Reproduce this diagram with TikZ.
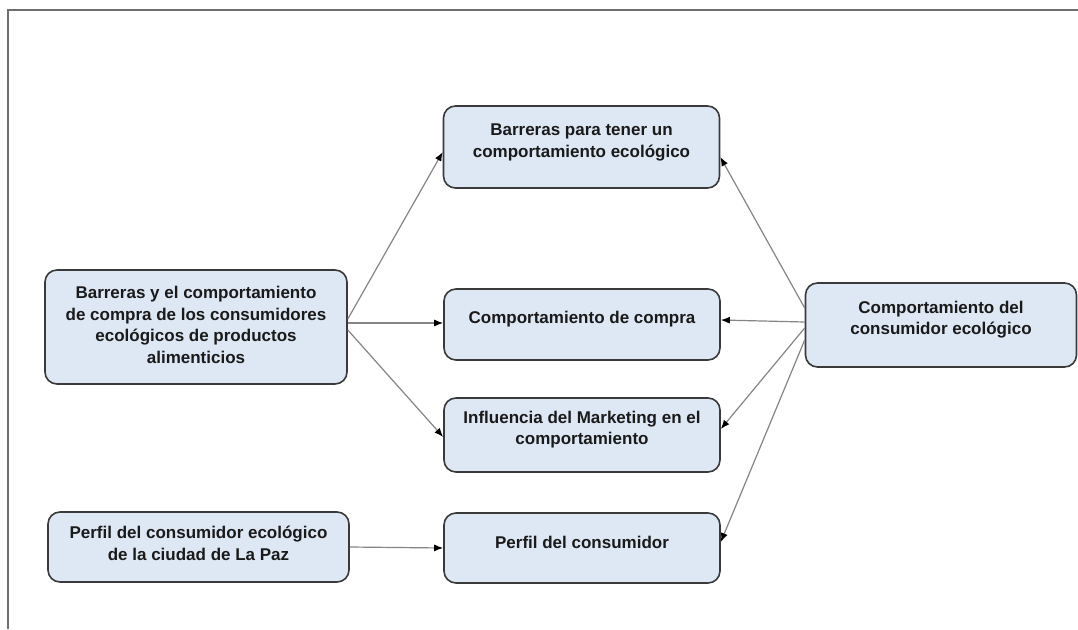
\documentclass[tikz,border=0pt]{standalone}
\usepackage{fontspec}
\setmainfont{Liberation Sans}
\usetikzlibrary{arrows.meta,calc}
\definecolor{boxfill}{HTML}{DEE8F5}
\definecolor{boxdraw}{HTML}{3A3A3A}
\definecolor{linecol}{HTML}{858585}
\definecolor{framecol}{HTML}{6E6E6E}
\definecolor{txtcol}{HTML}{1A1A1A}
\begin{document}
\begin{tikzpicture}[x=1pt,y=-1pt,
  box/.style={draw=boxdraw, line width=1.6pt, fill=boxfill, rounded corners=12pt, inner sep=0pt},
  txt/.style={align=center, font=\fontsize{17}{21.7}\selectfont\bfseries, text=txtcol, inner sep=0pt},
  conn/.style={draw=linecol, line width=1.2pt, -{Latex[length=9pt,width=7pt,color=black]}}]
\useasboundingbox (0,0) rectangle (1078,629);
\fill[white] (0,0) rectangle (1078,629);
% frame
\draw[framecol, line width=1.8pt] (8,629) -- (8,10) -- (1078,10);
% boxes
\node[box, minimum width=302pt, minimum height=114pt] (L) at (196,327) {};
\node[box, minimum width=301pt, minimum height=70pt] (E) at (198.5,547) {};
\node[box, minimum width=276pt, minimum height=82pt] (T) at (581.5,147) {};
\node[box, minimum width=276pt, minimum height=71pt] (C) at (582,324.5) {};
\node[box, minimum width=276pt, minimum height=74pt] (I) at (582,435) {};
\node[box, minimum width=276pt, minimum height=70pt] (P) at (582,548) {};
\node[box, minimum width=271pt, minimum height=84pt] (R) at (941,325) {};
% texts
\node[txt] (Lt) at (196,325) {Barreras y el comportamiento\\de compra de los consumidores\\ecológicos de productos\\alimenticios};
\node[txt] (Et) at (198.5,543) {Perfil del consumidor ecológico\\de la ciudad de La Paz};
\node[txt] (Tt) at (581.5,142.5) {Barreras para tener un\\comportamiento ecológico};
\node[txt] (Ct) at (582,319) {Comportamiento de compra};
\node[txt] (It) at (582,429.5) {Influencia del Marketing en el\\comportamiento};
\node[txt] (Pt) at (582,542) {Perfil del consumidor};
\node[txt] (Rt) at (941,319.5) {Comportamiento del\\consumidor ecológico};
% connectors
\draw[conn] ($(L.east)+(0,-8)$) -- ($(T.west)+(0,5)$);
\draw[conn] ($(L.east)+(0,-4)$) -- ($(C.west)+(0,-1.5)$);
\draw[conn] ($(L.east)+(0,3)$) -- ($(I.west)+(0,2)$);
\draw[conn] (E.east) -- (P.west);
\draw[conn] ($(R.west)+(0,-17)$) -- ($(T.east)+(0,10)$);
\draw[conn] ($(R.west)+(0,-3)$) -- ($(C.east)+(0,-4.5)$);
\draw[conn] ($(R.west)+(0,3)$) -- ($(I.east)+(0,-6)$);
\draw[conn] ($(R.west)+(0,15)$) -- ($(P.east)+(0,-6)$);
\end{tikzpicture}
\end{document}
